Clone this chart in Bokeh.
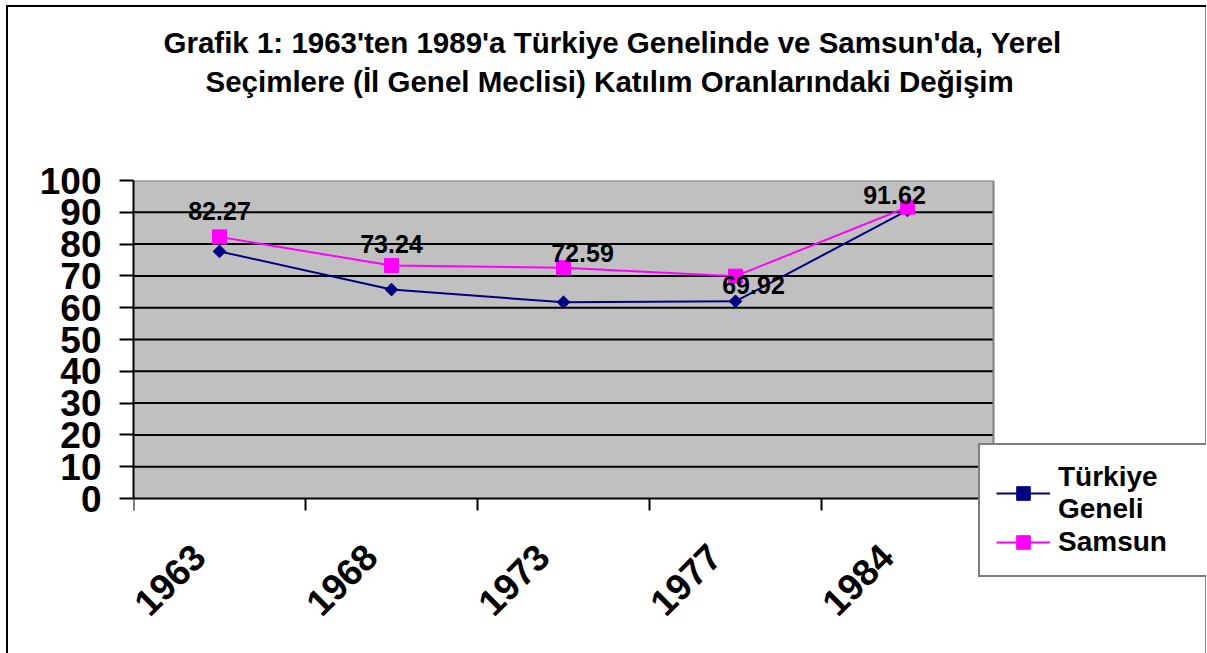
import math
from bokeh.plotting import figure
from bokeh.models import ColumnDataSource, FixedTicker, Legend, LegendItem, Title
from bokeh.core.properties import value
from bokeh.embed import file_html
from bokeh.resources import INLINE

# ---- data ----
years = ["1963", "1968", "1973", "1977", "1984"]
turkiye = [77.7, 65.7, 61.7, 62.0, 90.6]
samsun = [82.27, 73.24, 72.59, 69.92, 91.62]
y_ticks = [0, 10, 20, 30, 40, 50, 60, 70, 80, 90, 100]
series_names = ["Türkiye\nGeneli", "Samsun"]
title_line1 = "Grafik 1: 1963'ten 1989'a Türkiye Genelinde ve Samsun'da, Yerel"
title_line2 = "Seçimlere (İl Genel Meclisi) Katılım Oranlarındaki Değişim"

# ---- style / layout ----
FONT = "Liberation Sans"
W, H = 1207, 653
PLOT_L, PLOT_R, PLOT_T, PLOT_B = 133, 993, 180, 498   # grey plot area (px)
FRAME_R, FRAME_B = 1206, 653                          # frame incl. legend/labels zone
LEG_L, LEG_B = 978, 577
lab_dx = [0, 0, 19, 18, -13]        # data-label offsets in screen px
lab_dy = [-26, -22, -15, 9, -12]
xlabel_shift = -0.12                 # rotated year labels sit left of centre

n = len(years)
ymax = y_ticks[-1]
px_per_x = (PLOT_R - PLOT_L) / n
px_per_y = (PLOT_B - PLOT_T) / ymax
x_end = (FRAME_R - PLOT_L) / px_per_x
y_start = -(FRAME_B - PLOT_B) / px_per_y

xs = [i + 0.5 for i in range(n)]
xlab_pos = [x + xlabel_shift for x in xs]

p = figure(width=W, height=H, x_range=(0, x_end), y_range=(y_start, ymax),
           output_backend="svg", toolbar_location=None,
           min_border_left=PLOT_L, min_border_right=W - FRAME_R,
           min_border_top=PLOT_T, min_border_bottom=H - FRAME_B)
p.title.text = ""

p.background_fill_alpha = 0
p.border_fill_alpha = 0
p.outline_line_color = None
p.styles = {"background": "linear-gradient(#000,#000) 6px 5px / 1200px 2px no-repeat, "
                          "linear-gradient(#000,#000) 6px 5px / 2px 100% no-repeat, "
                          "linear-gradient(#888,#888) 1205px 5px / 1px 100% no-repeat, #fff"}
p.grid.visible = False

# grey plot area, grid lines, plot-area border
p.quad(left=0, right=n, bottom=0, top=ymax, fill_color="#C0C0C0", line_color=None)
grid_y = y_ticks[1:-1]
p.segment(x0=[0] * len(grid_y), x1=[n] * len(grid_y), y0=grid_y, y1=grid_y,
          line_color="black", line_width=2)
p.segment(x0=[0, n], x1=[n, n], y0=[ymax, 0], y1=[ymax, ymax],
          line_color="#808080", line_width=2)

# y axis
p.yaxis.bounds = (0, ymax)
p.yaxis.ticker = FixedTicker(ticks=y_ticks)
p.yaxis.axis_line_color = "black"
p.yaxis.axis_line_width = 2
p.yaxis.major_tick_line_width = 2
p.yaxis.major_tick_out = 14
p.yaxis.major_tick_in = 0
p.yaxis.minor_tick_line_color = None
p.yaxis.major_label_text_font = FONT
p.yaxis.major_label_text_font_style = "bold"
p.yaxis.major_label_text_font_size = "37px"
p.yaxis.major_label_text_color = "black"
p.yaxis.major_label_standoff = 18

# x axis: at y=0, labels near centres, ticks at category boundaries (minor)
p.xaxis.fixed_location = 0
p.xaxis.bounds = (0, n)
p.xaxis.ticker = FixedTicker(ticks=xlab_pos, minor_ticks=list(range(n + 1)))
p.xaxis.major_label_overrides = {x: y for x, y in zip(xlab_pos, years)}
p.xaxis.axis_line_color = "black"
p.xaxis.axis_line_width = 2
p.xaxis.major_tick_line_color = None
p.xaxis.minor_tick_line_color = "black"
p.xaxis.minor_tick_line_width = 2
p.xaxis.minor_tick_out = 12
p.xaxis.minor_tick_in = 0
p.xaxis.major_label_orientation = math.pi / 4
p.xaxis.major_label_text_font = FONT
p.xaxis.major_label_text_font_style = "bold"
p.xaxis.major_label_text_font_size = "37px"
p.xaxis.major_label_text_color = "black"
p.xaxis.major_label_standoff = 40

# series
l1 = p.line(xs, turkiye, line_color="#000080", line_width=2)
m1 = p.scatter(xs, turkiye, marker="square", angle=math.pi / 4, size=9,
               fill_color="#000080", line_color="#000080")
l2 = p.line(xs, samsun, line_color="#FF00FF", line_width=2)
m2 = p.scatter(xs, samsun, marker="square", size=14,
               fill_color="#FF00FF", line_color="#FF00FF")

# data labels
src = ColumnDataSource(dict(x=xs, y=samsun, t=["%.2f" % v for v in samsun],
                            dx=lab_dx, dy=lab_dy))
p.text(x="x", y="y", text="t", source=src, x_offset="dx", y_offset="dy",
       text_align="center", text_baseline="middle",
       text_font=value(FONT), text_font_style="bold", text_font_size="25px",
       text_color="black")

# legend
legend = Legend(items=[LegendItem(label=series_names[0], renderers=[l1, m1]),
                       LegendItem(label=series_names[1], renderers=[l2, m2])],
                location=(LEG_L - PLOT_L, FRAME_B - LEG_B))
legend.label_text_font = FONT
legend.label_text_font_style = "bold"
legend.label_text_font_size = "28px"
legend.label_text_color = "black"
legend.label_text_line_height = 1.1
legend.border_line_color = "black"
legend.border_line_width = 2
legend.background_fill_color = "white"
legend.background_fill_alpha = 1
legend.glyph_width = 54
legend.glyph_height = 34
legend.label_standoff = 8
legend.label_width = 134
legend.padding = 16
legend.spacing = 0
legend.margin = 0
p.add_layout(legend, "center")

# titles: spacer closest to frame, then line 2, then line 1
spacer = Title(text=" ", text_font_size="10px", standoff=70)
t2 = Title(text=title_line2, align="left", offset=72, standoff=0,
           text_font=FONT, text_font_style="bold", text_font_size="29.5px",
           text_color="black")
t1 = Title(text=title_line1, align="left", offset=30, standoff=8,
           text_font=FONT, text_font_style="bold", text_font_size="29.5px",
           text_color="black")
p.add_layout(spacer, "above")
p.add_layout(t2, "above")
p.add_layout(t1, "above")

open("out.html", "w").write(file_html(p, INLINE))
